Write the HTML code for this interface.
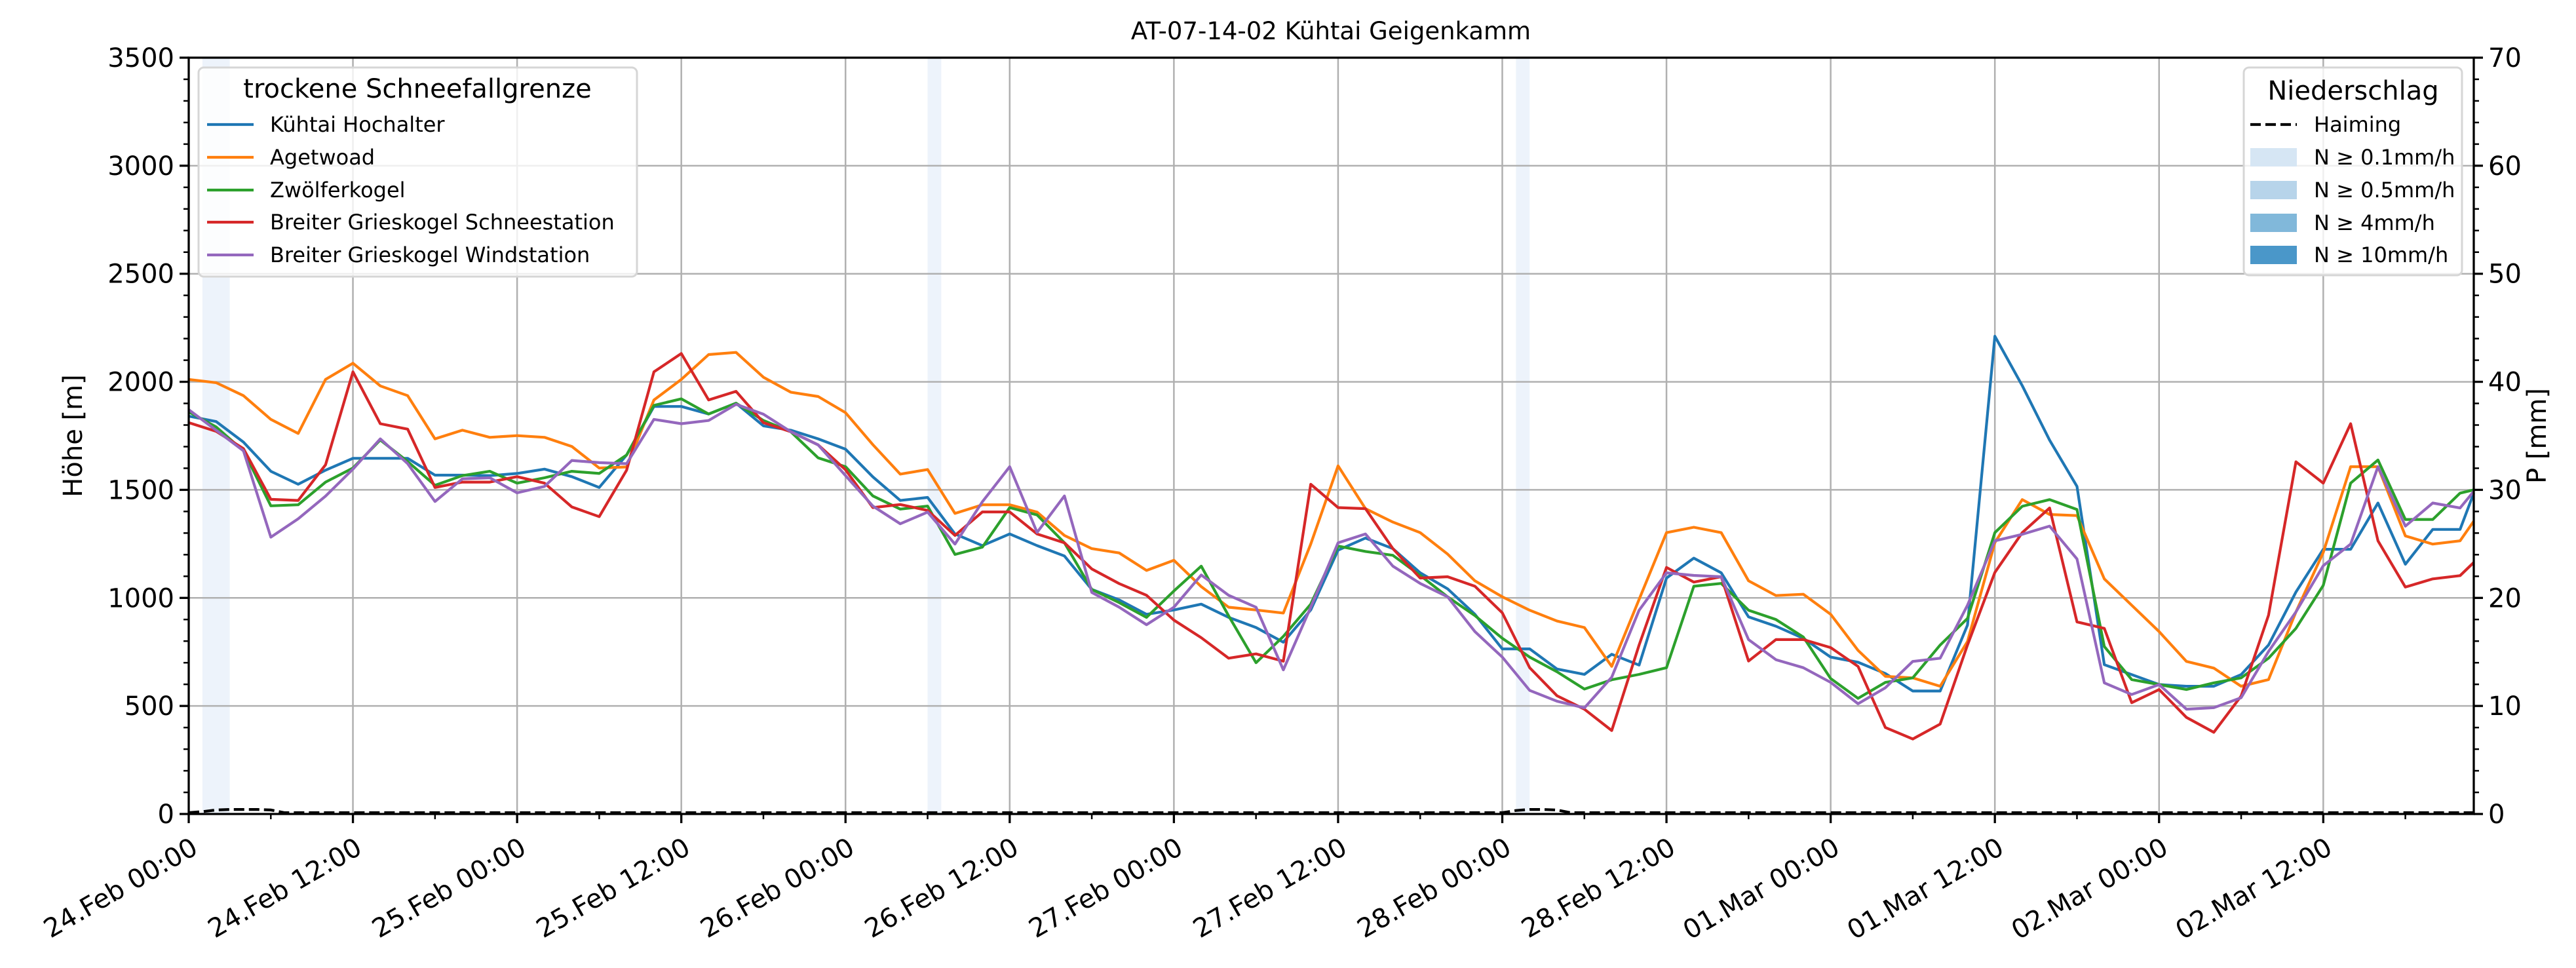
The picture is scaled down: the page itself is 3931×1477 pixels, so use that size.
<!DOCTYPE html>
<html><head><meta charset="utf-8">
<style>
html,body{margin:0;padding:0;background:#fff;}
svg{display:block;font-family:"DejaVu Sans","Liberation Sans",sans-serif;}
</style></head>
<body>
<svg id="chart" width="3931" height="1477" viewBox="0 0 3931 1477" xmlns="http://www.w3.org/2000/svg">
<rect x="0" y="0" width="3931" height="1477" fill="#fff"/>
<text x="2031" y="60" font-size="37" text-anchor="middle">AT-07-14-02 Kühtai Geigenkamm</text>
<g id="bands"></g>
<g id="grid"></g>
<g id="series"></g>
<g id="axes"></g>
<text transform="translate(125,665) rotate(-90)" font-size="40" text-anchor="middle">Höhe [m]</text>
<text transform="translate(3885,665) rotate(-90)" font-size="40" text-anchor="middle">P [mm]</text>
<g id="legend-left">
<rect x="303" y="103" width="669" height="319" rx="8" fill="#fff" fill-opacity="0.8" stroke="#d6d6d6" stroke-width="3"/>
<text x="637" y="149" font-size="40" text-anchor="middle">trockene Schneefallgrenze</text>
<g><line x1="316" x2="387" y1="190" y2="190" stroke="#1f77b4" stroke-width="4.2"/><text x="412" y="201" font-size="32">Kühtai Hochalter</text></g>
<g><line x1="316" x2="387" y1="240" y2="240" stroke="#ff7f0e" stroke-width="4.2"/><text x="412" y="251" font-size="32">Agetwoad</text></g>
<g><line x1="316" x2="387" y1="290" y2="290" stroke="#2ca02c" stroke-width="4.2"/><text x="412" y="301" font-size="32">Zwölferkogel</text></g>
<g><line x1="316" x2="387" y1="339" y2="339" stroke="#d62728" stroke-width="4.2"/><text x="412" y="350" font-size="32">Breiter Grieskogel Schneestation</text></g>
<g><line x1="316" x2="387" y1="389" y2="389" stroke="#9467bd" stroke-width="4.2"/><text x="412" y="400" font-size="32">Breiter Grieskogel Windstation</text></g>
</g>
<g id="legend-right">
<rect x="3424" y="103" width="333" height="317" rx="8" fill="#fff" fill-opacity="0.8" stroke="#d6d6d6" stroke-width="3"/>
<text x="3591" y="152" font-size="40" text-anchor="middle">Niederschlag</text>
<g><line x1="3434" x2="3505" y1="190" y2="190" stroke="#000" stroke-width="4.2" stroke-dasharray="16,7"/><text x="3531" y="201" font-size="32">Haiming</text></g>
<g><rect x="3434" y="226" width="71" height="28" fill="#d6e6f4"/><text x="3531" y="251" font-size="32">N ≥ 0.1mm/h</text></g>
<g><rect x="3434" y="276" width="71" height="28" fill="#b7d4ea"/><text x="3531" y="301" font-size="32">N ≥ 0.5mm/h</text></g>
<g><rect x="3434" y="326" width="71" height="28" fill="#81b8da"/><text x="3531" y="351" font-size="32">N ≥ 4mm/h</text></g>
<g><rect x="3434" y="375" width="71" height="28" fill="#4a97c9"/><text x="3531" y="400" font-size="32">N ≥ 10mm/h</text></g>
</g>
</svg>
<script>
const hours = [0,2,4,6,8,10,12,14,16,18,20,22,24,26,28,30,32,34,36,38,40,42,44,46,48,50,52,54,56,58,60,62,64,66,68,70,72,74,76,78,80,82,84,86,88,90,92,94,96,98,100,102,104,106,108,110,112,114,116,118,120,122,124,126,128,130,132,134,136,138,140,142,144,146,148,150,152,154,156,158,160,162,164,166,167];
const kuehtai = [1841,1816,1721,1586,1526,1591,1646,1646,1646,1568,1568,1566,1576,1596,1561,1511,1661,1886,1886,1851,1901,1796,1776,1736,1688,1560,1451,1465,1296,1242,1296,1242,1194,1039,991,924,944,971,910,863,795,944,1221,1277,1228,1116,1042,924,764,764,671,646,739,689,1092,1184,1116,912,869,813,726,702,650,569,569,874,2211,1982,1730,1516,691,645,599,591,591,645,782,1027,1225,1225,1439,1156,1317,1317,1485];
const agetwoad = [2011,1996,1936,1826,1761,2011,2086,1981,1936,1736,1776,1743,1751,1743,1701,1601,1606,1916,2011,2126,2136,2021,1952,1932,1857,1709,1573,1594,1391,1431,1431,1397,1289,1228,1208,1127,1174,1052,957,944,930,1249,1611,1413,1351,1302,1203,1079,1005,943,893,863,683,993,1302,1327,1302,1079,1011,1017,924,757,637,630,591,798,1256,1455,1386,1381,1088,966,844,706,675,591,622,935,1210,1607,1607,1287,1249,1264,1355];
const zwoelfer = [1861,1791,1681,1426,1431,1536,1601,1731,1631,1521,1566,1586,1531,1556,1586,1576,1661,1891,1921,1851,1901,1821,1769,1648,1607,1472,1411,1425,1201,1235,1418,1384,1255,1039,978,910,1032,1147,917,700,822,971,1240,1215,1197,1104,1005,918,813,726,658,578,621,646,677,1054,1067,943,900,819,627,535,609,630,782,905,1302,1424,1455,1409,775,622,599,576,607,630,721,859,1058,1531,1638,1363,1363,1485,1500];
const schneestation = [1811,1771,1691,1456,1451,1616,2046,1806,1781,1511,1536,1536,1561,1531,1421,1376,1591,2046,2131,1916,1956,1811,1769,1708,1593,1418,1432,1405,1289,1398,1398,1296,1255,1134,1066,1012,897,816,721,741,707,1526,1418,1413,1228,1092,1098,1054,931,677,547,485,386,782,1141,1073,1098,708,807,807,770,683,400,347,416,782,1118,1302,1416,889,859,515,576,447,378,546,920,1630,1531,1806,1264,1050,1088,1103,1164];
const windstation = [1871,1776,1681,1281,1366,1471,1596,1736,1621,1446,1551,1556,1486,1516,1636,1626,1621,1826,1806,1821,1896,1850,1769,1708,1566,1425,1343,1397,1249,1445,1607,1303,1472,1025,957,876,957,1106,1012,957,667,957,1255,1296,1147,1067,1005,844,726,572,522,491,633,943,1116,1104,1098,807,714,677,609,510,584,706,721,966,1264,1294,1332,1180,607,553,599,485,492,538,752,935,1149,1249,1607,1332,1439,1416,1493];
const precipHours = [0,1,2,3,4,5,6,7,54,55,96,97,98,99,100,101,167];
const haiming = [0,0.1,0.25,0.3,0.3,0.3,0.25,0,0,0,0,0.2,0.3,0.3,0.25,0,0];
const bandStart = [1,54,97];
const bandEnd = [3,55,98];
const yTicks = [0,500,1000,1500,2000,2500,3000,3500];
const y2Ticks = [0,10,20,30,40,50,60,70];
const xTickHours = [0,12,24,36,48,60,72,84,96,108,120,132,144,156];
const xTickLabels = ["24.Feb 00:00","24.Feb 12:00","25.Feb 00:00","25.Feb 12:00","26.Feb 00:00","26.Feb 12:00","27.Feb 00:00","27.Feb 12:00","28.Feb 00:00","28.Feb 12:00","01.Mar 00:00","01.Mar 12:00","02.Mar 00:00","02.Mar 12:00"];

const NS='http://www.w3.org/2000/svg';
const L=288,R=3775,T=88,B=1242,HMAX=167,YMAX=3500,PMAX=70;
const xs=h=>L+h*(R-L)/HMAX;
const ys=v=>B-v*(B-T)/YMAX;
const ps=v=>B-v*(B-T)/PMAX;
function mk(tag,attrs,parent){const e=document.createElementNS(NS,tag);for(const k in attrs)e.setAttribute(k,attrs[k]);parent.appendChild(e);return e;}
const gB=document.getElementById('bands'),gG=document.getElementById('grid'),gS=document.getElementById('series'),gA=document.getElementById('axes');

bandStart.forEach((s,i)=>{
  const r=mk('rect',{x:xs(s),y:T,width:xs(bandEnd[i])-xs(s),height:B-T,fill:'#edf3fb'},gB);
  
  
});
xTickHours.forEach(h=>{
  const l=mk('line',{x1:xs(h),x2:xs(h),y1:T,y2:B,stroke:'#b0b0b0','stroke-width':2.5},gG);
  
  
});
yTicks.forEach(v=>{
  const l=mk('line',{x1:L,x2:R,y1:ys(v),y2:ys(v),stroke:'#b0b0b0','stroke-width':2.5},gG);
  
  
});

const series=[[kuehtai,'#1f77b4','series-kuehtai-hochalter'],[agetwoad,'#ff7f0e','series-agetwoad'],[zwoelfer,'#2ca02c','series-zwoelferkogel'],[schneestation,'#d62728','series-schneestation'],[windstation,'#9467bd','series-windstation']];
series.forEach(([arr,col,name])=>{
  const d=arr.map((v,i)=>(i?'L':'M')+xs(hours[i]).toFixed(1)+','+ys(v).toFixed(1)).join('');
  const p=mk('path',{d:d,fill:'none',stroke:col,'stroke-width':4.2,'stroke-linejoin':'round'},gS);
  
  
});
const pd=haiming.map((v,i)=>(i?'L':'M')+xs(precipHours[i]).toFixed(1)+','+(ps(v)-2).toFixed(1)).join('');
const hp=mk('path',{d:pd,fill:'none',stroke:'#000','stroke-width':4.2,'stroke-dasharray':'16,7'},gS);



const fr=mk('rect',{x:L,y:T,width:R-L,height:B-T,fill:'none',stroke:'#000','stroke-width':3.3},gA);


for(let v=0;v<=YMAX;v+=100){
  const major=v%500===0;
  mk('line',{x1:L,x2:L-(major?14:8),y1:ys(v),y2:ys(v),stroke:'#000','stroke-width':major?3.3:2.5},gA);
}
yTicks.forEach(v=>{
  const t=mk('text',{x:L-22,y:ys(v)+14,'font-size':40,'text-anchor':'end'},gA);
  t.textContent=v;
  
  
});
for(let v=0;v<=PMAX;v+=2){
  const major=v%10===0;
  mk('line',{x1:R,x2:R+(major?14:8),y1:ps(v),y2:ps(v),stroke:'#000','stroke-width':major?3.3:2.5},gA);
}
y2Ticks.forEach(v=>{
  const t=mk('text',{x:R+22,y:ps(v)+14,'font-size':40,'text-anchor':'start'},gA);
  t.textContent=v;
  
  
});
for(let h=0;h<=HMAX;h+=6){
  const major=h%12===0;
  mk('line',{x1:xs(h),x2:xs(h),y1:B,y2:B+(major?14:8),stroke:'#000','stroke-width':major?3.3:2.5},gA);
}
xTickHours.forEach((h,i)=>{
  const t=mk('text',{transform:'translate('+(xs(h)+2)+','+(B+34)+') rotate(-30)','font-size':40,'text-anchor':'end','dominant-baseline':'hanging'},gA);
  t.textContent=xTickLabels[i];
  
  
});
</script>
</body></html>
